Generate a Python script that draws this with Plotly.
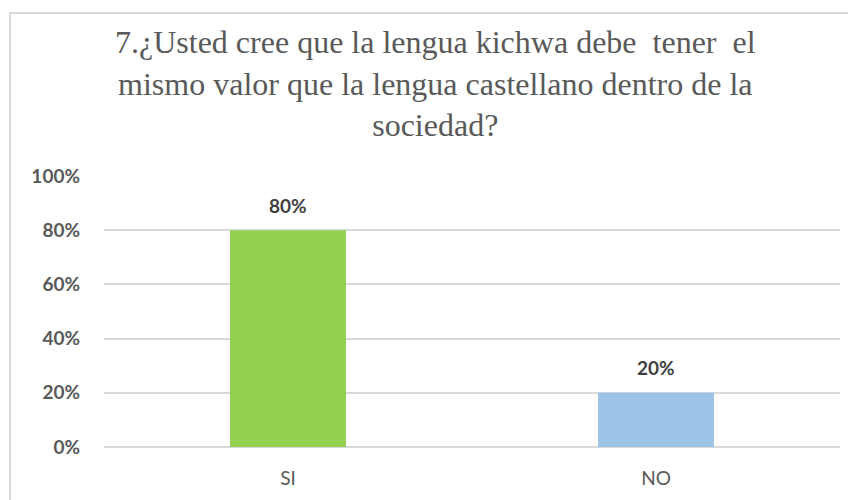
import plotly.graph_objects as go

categories = ["SI", "NO"]
values = [0.80, 0.20]
bar_colors = ["#92D050", "#9DC3E6"]
tick_vals = [0, 0.2, 0.4, 0.6, 0.8, 1.0]
tick_text = ["0%", "20%", "40%", "60%", "80%", "100%"]
title_text = ("7.¿Usted cree que la lengua kichwa debe  tener  el<br>"
              "mismo valor que la lengua castellano dentro de la<br>"
              "sociedad?")

fig = go.Figure()
fig.add_trace(go.Bar(
    x=categories, y=values, marker=dict(color=bar_colors, line=dict(width=0)),
    hoverinfo="skip", showlegend=False,
))

for c, v in zip(categories, values):
    fig.add_annotation(
        x=c, y=v, text=f"<b>{round(v*100)}%</b>", showarrow=False,
        yanchor="middle", yshift=25,
        font=dict(family="Lato", size=19, color="#404040"),
    )

# title as annotation
fig.add_annotation(
    xref="paper", yref="paper", x=0.451, y=1.343, xanchor="center", yanchor="middle",
    text=title_text, showarrow=False, align="center",
    font=dict(family="'Times New Roman', 'Liberation Serif', 'DejaVu Serif', serif",
              size=32, color="#595959"),
)

# chart border
fig.add_shape(type="rect", xref="paper", yref="paper",
              x0=-0.1277, x1=1.03, y0=-0.21, y1=1.6015,
              line=dict(color="#D9D9D9", width=2), fillcolor="rgba(0,0,0,0)",
              layer="below")

fig.update_layout(
    width=848, height=492,
    margin=dict(l=96, r=16, t=168, b=53),
    paper_bgcolor="white", plot_bgcolor="white",
    bargap=0.685,
    xaxis=dict(showgrid=False, showline=False, ticks="", ticklabelstandoff=18,
               tickfont=dict(family="Lato", size=19, color="#595959")),
    yaxis=dict(range=[0, 1], tickvals=tick_vals, ticktext=tick_text,
               showgrid=True, gridcolor="#D9D9D9", gridwidth=1.5,
               zeroline=True, zerolinecolor="#D9D9D9", zerolinewidth=1.5,
               showline=False, ticks="", ticklabelstandoff=23,
               tickfont=dict(family="Lato", size=19, color="#595959", weight="bold")),
)

fig.write_html("out.html")
